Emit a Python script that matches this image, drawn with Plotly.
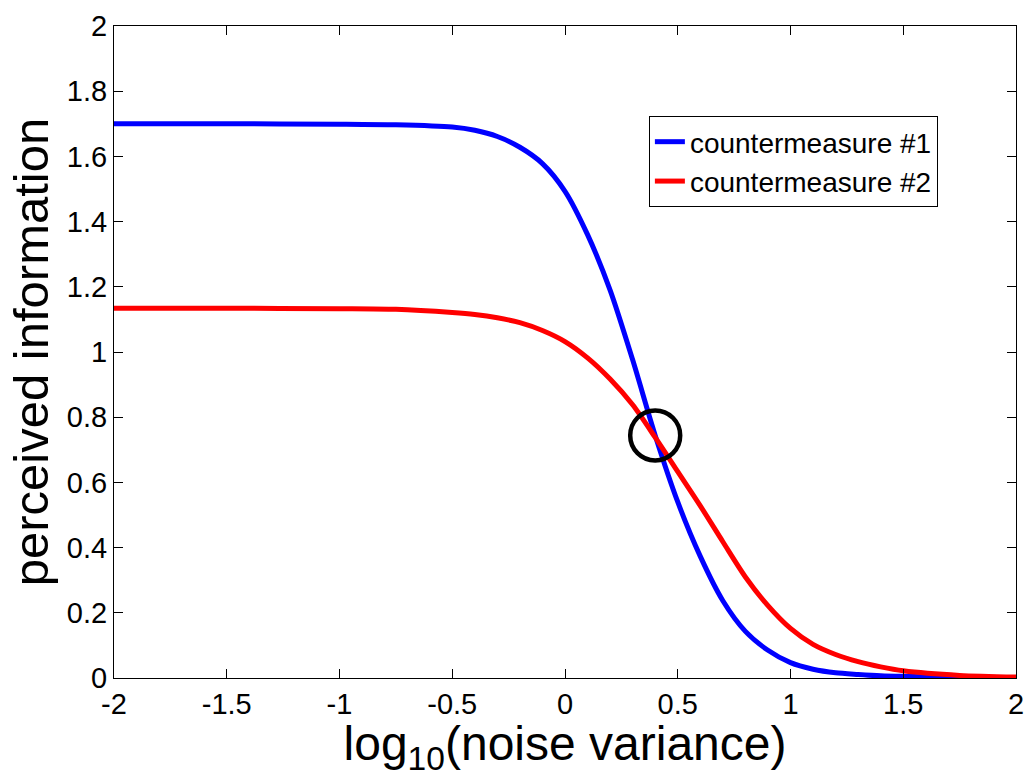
import plotly.graph_objects as go

x_vals = [-2.0, -1.5, -1.0, -0.75, -0.5, -0.4, -0.3, -0.2, -0.1, 0.0, 0.1, 0.2, 0.3, 0.4,
          0.5, 0.6, 0.7, 0.8, 0.9, 1.0, 1.1, 1.2, 1.3, 1.4, 1.5, 1.75, 2.0]
cm1_vals = [1.700, 1.700, 1.699, 1.697, 1.690, 1.680, 1.661, 1.628, 1.578, 1.493, 1.360,
            1.190, 0.976, 0.744, 0.540, 0.373, 0.237, 0.143, 0.085, 0.047, 0.027, 0.016,
            0.011, 0.007, 0.005, 0.002, 0.001]
cm2_vals = [1.134, 1.134, 1.133, 1.131, 1.121, 1.115, 1.105, 1.090, 1.066, 1.032, 0.982,
            0.917, 0.838, 0.738, 0.633, 0.528, 0.418, 0.310, 0.222, 0.152, 0.103, 0.072,
            0.050, 0.034, 0.022, 0.008, 0.003]
series_names = ["countermeasure #1", "countermeasure #2"]
circle_x = [0.4]
circle_y = [0.744]
x_ticks = [-2, -1.5, -1, -0.5, 0, 0.5, 1, 1.5, 2]
y_ticks = [0, 0.2, 0.4, 0.6, 0.8, 1, 1.2, 1.4, 1.6, 1.8, 2]

FONT = "Liberation Sans, Arial, sans-serif"

fig = go.Figure()
fig.add_trace(go.Scatter(x=x_vals, y=cm1_vals, mode="lines", name=series_names[0],
                         line=dict(color="#0000FF", width=5, shape="spline", smoothing=0.8)))
fig.add_trace(go.Scatter(x=x_vals, y=cm2_vals, mode="lines", name=series_names[1],
                         line=dict(color="#FF0000", width=5, shape="spline", smoothing=0.8)))
fig.add_trace(go.Scatter(x=circle_x, y=circle_y, mode="markers", showlegend=False,
                         marker=dict(symbol="circle-open", size=50, color="black",
                                     line=dict(color="black", width=4.5))))

axis_common = dict(showgrid=False, zeroline=False, showline=True, linecolor="black",
                   linewidth=1, mirror="ticks", ticks="inside", ticklen=9,
                   tickcolor="black", tickwidth=1,
                   tickfont=dict(family=FONT, size=29, color="black"))

fig.update_layout(
    width=1034, height=777,
    margin=dict(l=114, r=10, t=21, b=99),
    paper_bgcolor="white", plot_bgcolor="white",
    font=dict(family=FONT, color="black"),
    xaxis=dict(range=[-2, 2], tickvals=x_ticks, ticktext=[str(t) for t in x_ticks],
               title=dict(text="log<sub>10</sub>(noise variance)",
                          font=dict(family=FONT, size=48), standoff=12),
               **axis_common),
    yaxis=dict(range=[0, 2], tickvals=y_ticks, ticktext=[f"{t:g}" for t in y_ticks],
               title=dict(text="perceived information",
                          font=dict(family=FONT, size=49), standoff=2),
               **axis_common),
    legend=dict(x=0.593, y=0.862, xanchor="left", yanchor="top",
                bgcolor="white", bordercolor="black", borderwidth=1,
                font=dict(family=FONT, size=28, color="black"),
                itemwidth=30, tracegroupgap=0),
    showlegend=True,
)

fig.write_html("out.html")
